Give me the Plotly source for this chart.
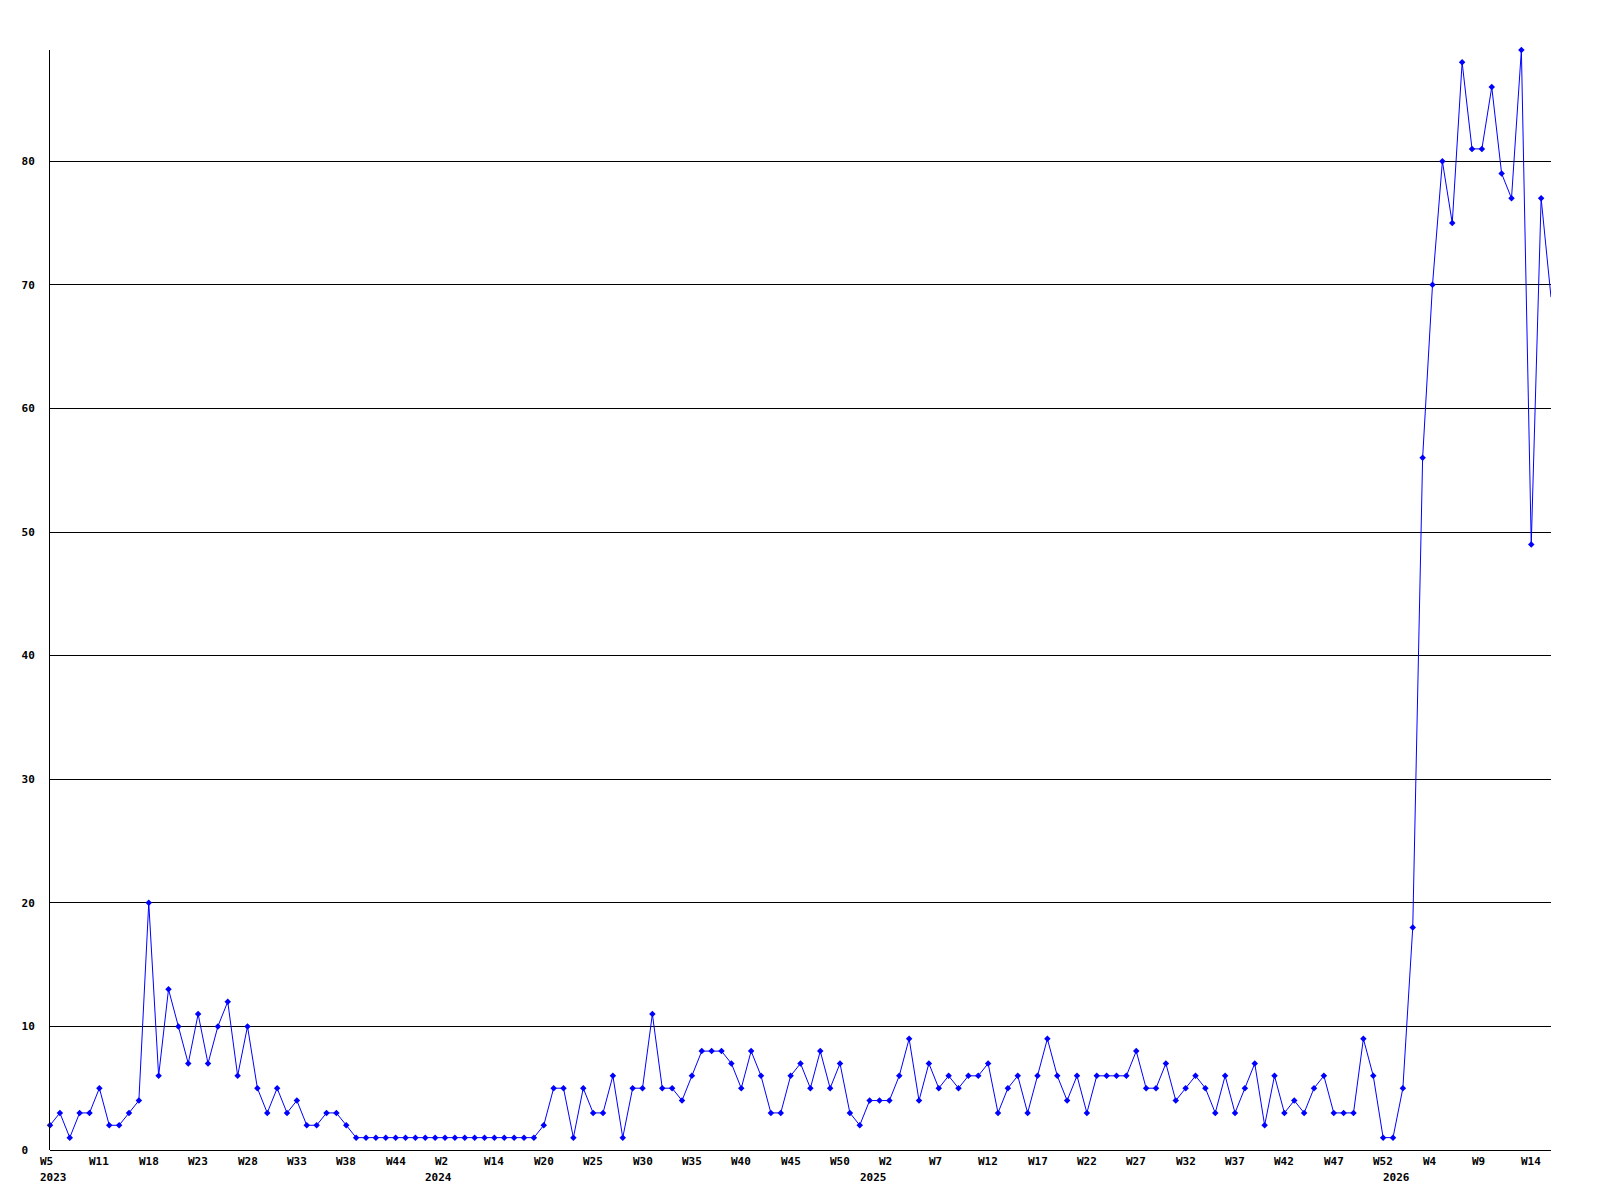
import plotly.graph_objects as go

values = [
    2, 3, 1, 3, 3, 5, 2, 2, 3, 4, 20, 6, 13, 10, 7, 11, 7, 10, 12, 6, 10, 5, 3, 5, 3, 4,
    2, 2, 3, 3, 2,
    1, 1, 1, 1, 1, 1, 1, 1, 1, 1, 1, 1, 1, 1, 1, 1, 1, 1, 1,
    2, 5,
    5, 1, 5, 3, 3, 6, 1, 5, 5, 11, 5, 5, 4, 6, 8, 8, 8, 7, 5, 8, 6, 3, 3, 6, 7, 5, 8,
    5, 7, 3, 2, 4, 4, 4, 6, 9, 4, 7, 5, 6, 5, 6, 6, 7, 3, 5, 6, 3, 6, 9, 6, 4, 6,
    3, 6, 6, 6, 6, 8, 5, 5, 7, 4, 5, 6, 5, 3, 6, 3, 5, 7, 2, 6, 3, 4, 3, 5, 6, 3,
    3, 3, 9, 6, 1, 1, 5, 18,
    56, 70, 80, 75, 88, 81, 81, 86, 79, 77, 89, 49, 77, 69,
]

week_tick_idx = list(range(0, 151, 5))
week_tick_labels = ["W5", "W11", "W18", "W23", "W28", "W33", "W38", "W44", "W2", "W14",
                    "W20", "W25", "W30", "W35", "W40", "W45", "W50", "W2", "W7", "W12",
                    "W17", "W22", "W27", "W32", "W37", "W42", "W47", "W52", "W4", "W9", "W14"]
year_idx = [0, 39, 83, 136]
year_labels = ["2023", "2024", "2025", "2026"]

y_tick_vals = [0, 10, 20, 30, 40, 50, 60, 70, 80]
y_tick_text = ["0\u00a0", "10", "20", "30", "40", "50", "60", "70", "80"]

x = list(range(len(values)))
marker_sizes = [5] * (len(values) - 1) + [0]

fig = go.Figure()
fig.add_trace(go.Scatter(
    x=x, y=values, mode="lines+markers",
    line=dict(color="#0000FF", width=1),
    marker=dict(color="#0000FF", size=marker_sizes, symbol="diamond",
                opacity=1, line=dict(width=0)),
    cliponaxis=False,
    hoverinfo="x+y",
))

FONT = "DejaVu Sans Mono"
annotations = []
for i, t in zip(week_tick_idx, week_tick_labels):
    annotations.append(dict(x=i, y=0, xref="x", yref="paper", text=t, showarrow=False,
                            xanchor="left", yanchor="middle", xshift=-12, yshift=-11,
                            font=dict(family=FONT, size=11, color="black", weight="bold")))
for i, t in zip(year_idx, year_labels):
    annotations.append(dict(x=i, y=0, xref="x", yref="paper", text=t, showarrow=False,
                            xanchor="left", yanchor="middle", xshift=-12, yshift=-27,
                            font=dict(family=FONT, size=11, color="black", weight="bold")))

fig.update_layout(
    width=1600, height=1200,
    margin=dict(l=42, r=57, t=42, b=58),
    paper_bgcolor="white", plot_bgcolor="white",
    showlegend=False,
    annotations=annotations,
    xaxis=dict(range=[0, len(values) - 1], showgrid=False, zeroline=False,
               showticklabels=False, ticks="", showline=False),
    yaxis=dict(range=[0, max(values)], tickmode="array",
               tickvals=y_tick_vals, ticktext=y_tick_text,
               showgrid=True, gridcolor="black", gridwidth=1,
               zeroline=True, zerolinecolor="black", zerolinewidth=1,
               showline=True, linecolor="black", linewidth=1,
               ticks="", ticklabelstandoff=12,
               tickfont=dict(family=FONT, size=11, color="black", weight="bold")),
)

fig.write_html("out.html")
